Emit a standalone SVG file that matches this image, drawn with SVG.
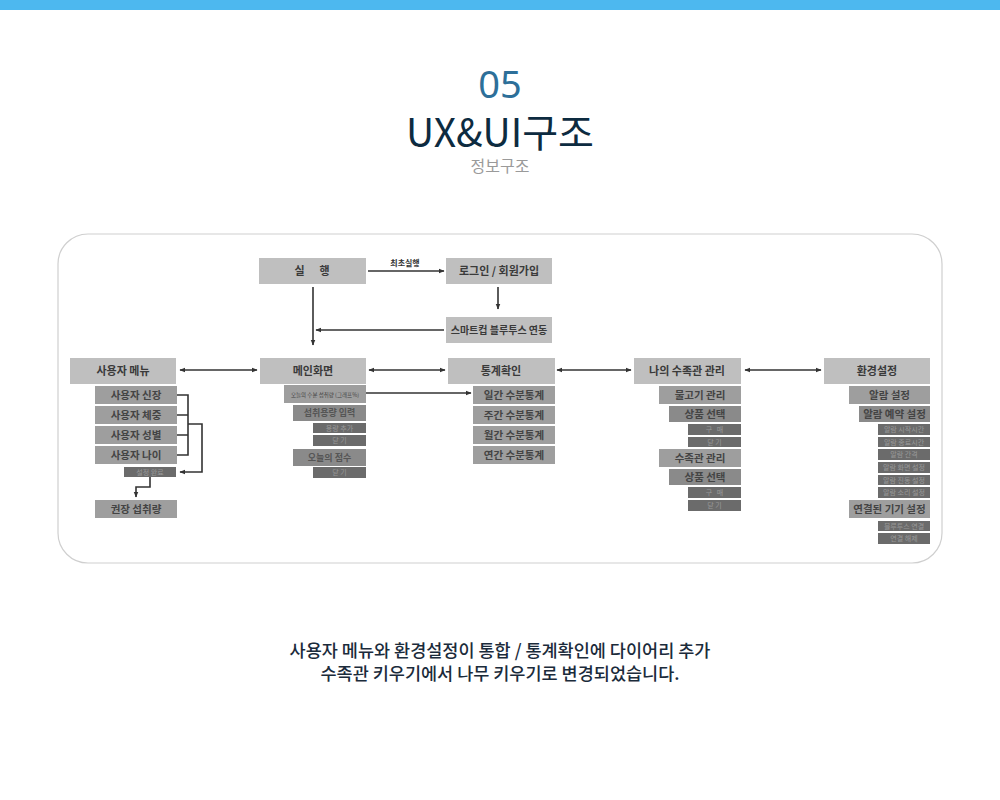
<svg xmlns="http://www.w3.org/2000/svg" width="1000" height="800" viewBox="0 0 1000 800">
<defs>
<style>
.t1{fill:#bfbfbf}
.t2{fill:#9e9e9e}
.t3{fill:#8a8a8a}
.t4{fill:#6b6b6b}
text{font-family:"Noto Sans CJK KR","Noto Sans",sans-serif;text-anchor:middle}
.l1{font-size:11px;font-weight:bold;fill:#3a3a3a}
.l2{font-size:10.5px;font-weight:bold;fill:#444}
.l3{font-size:9px;font-weight:bold;fill:#555}
.l4{font-size:7px;fill:#999}
.ln{stroke:#333;stroke-width:1.6;fill:none}
</style>
<marker id="ah" viewBox="0 0 10 10" refX="9" refY="5" markerWidth="6" markerHeight="6" orient="auto-start-reverse" markerUnits="userSpaceOnUse">
<path d="M0,1 L10,5 L0,9 Z" fill="#333"/>
</marker>
</defs>
<rect x="0" y="0" width="1000" height="10" fill="#4db8ef"/>
<text x="500" y="98" style="font-size:38px;fill:#2d6f99;font-family:'Noto Sans','Noto Sans CJK KR',sans-serif;font-weight:normal">05</text>
<text x="500" y="147" style="font-size:39px;fill:#0d2b40;font-weight:normal">UX&amp;UI구조</text>
<text x="500" y="172" style="font-size:16px;fill:#9a9a9a">정보구조</text>
<rect x="58" y="234" width="884" height="329" rx="30" ry="30" fill="#fff" stroke="#cfcfcf" stroke-width="1.2"/>

<g id="connectors">
<line class="ln" x1="368" y1="271" x2="444" y2="271" marker-end="url(#ah)"/>
<text x="405" y="266" style="font-size:8px;font-weight:bold;fill:#333">최초실행</text>
<line class="ln" x1="498" y1="287" x2="498" y2="309" marker-end="url(#ah)"/>
<line class="ln" x1="313" y1="287" x2="313" y2="345" marker-end="url(#ah)"/>
<line class="ln" x1="444" y1="330" x2="316" y2="330" marker-end="url(#ah)"/>
<line class="ln" x1="180" y1="370" x2="257" y2="370" marker-start="url(#ah)" marker-end="url(#ah)"/>
<line class="ln" x1="369" y1="370" x2="445" y2="370" marker-start="url(#ah)" marker-end="url(#ah)"/>
<line class="ln" x1="557" y1="370" x2="631" y2="370" marker-start="url(#ah)" marker-end="url(#ah)"/>
<line class="ln" x1="745" y1="370" x2="821" y2="370" marker-start="url(#ah)" marker-end="url(#ah)"/>
<line class="ln" x1="366" y1="393" x2="471" y2="393" marker-end="url(#ah)"/>
<path class="ln" d="M177,395 H188 V455 H177 M177,415 H188 M177,435 H188"/>
<path class="ln" d="M188,424 H202 V472 H180" marker-end="url(#ah)"/>
<path class="ln" d="M150,477 V487 H136 V497" marker-end="url(#ah)"/>
</g>

<g id="n-run"><rect class="t1" x="259" y="258" width="107" height="26"/><text class="l1" x="312" y="275">실&#160;&#160;&#160;&#160;&#160;&#160;행</text></g>
<g id="n-login"><rect class="t1" x="446" y="258" width="106" height="26"/><text class="l1" x="499" y="275">로그인 / 회원가입</text></g>
<g id="n-bt"><rect class="t1" x="446" y="317" width="106" height="26"/><text class="l2" x="499" y="334" style="font-size:10px;fill:#3a3a3a">스마트컵 블루투스 연동</text></g>

<g id="n-user"><rect class="t1" x="70" y="358" width="106" height="26"/><text class="l1" x="123" y="375">사용자 메뉴</text></g>
<g id="n-u1"><rect class="t2" x="95" y="386" width="82" height="18"/><text class="l2" x="136" y="399">사용자 신장</text></g>
<g id="n-u2"><rect class="t2" x="95" y="406" width="82" height="18"/><text class="l2" x="136" y="419">사용자 체중</text></g>
<g id="n-u3"><rect class="t2" x="95" y="426" width="82" height="18"/><text class="l2" x="136" y="439">사용자 성별</text></g>
<g id="n-u4"><rect class="t2" x="95" y="446" width="82" height="18"/><text class="l2" x="136" y="459">사용자 나이</text></g>
<g id="n-u5"><rect class="t4" x="124" y="467" width="52" height="10"/><text class="l4" x="150" y="474.5">설정 완료</text></g>
<g id="n-u6"><rect class="t2" x="95" y="500" width="82" height="18"/><text class="l2" x="136" y="513">권장 섭취량</text></g>

<g id="n-main"><rect class="t1" x="260" y="358" width="106" height="26"/><text class="l1" x="313" y="375">메인화면</text></g>
<g id="n-m1"><rect class="t2" x="284" y="385" width="82" height="18"/><text class="l4" x="325" y="396.5" style="fill:#444;font-size:5.5px">오늘의 수분 섭취량 (그래프%)</text></g>
<g id="n-m2"><rect class="t3" x="293" y="405" width="73" height="16"/><text class="l3" x="329.5" y="416">섭취용량 입력</text></g>
<g id="n-m3"><rect class="t4" x="313" y="423" width="53" height="10"/><text class="l4" x="339.5" y="430.5">용량 추가</text></g>
<g id="n-m4"><rect class="t4" x="313" y="435" width="53" height="11"/><text class="l4" x="339.5" y="443">닫 기</text></g>
<g id="n-m5"><rect class="t3" x="293" y="449" width="73" height="17"/><text class="l3" x="329.5" y="460.5">오늘의 점수</text></g>
<g id="n-m6"><rect class="t4" x="313" y="467" width="53" height="11"/><text class="l4" x="339.5" y="475">닫 기</text></g>

<g id="n-stat"><rect class="t1" x="448" y="358" width="107" height="26"/><text class="l1" x="501" y="375">통계확인</text></g>
<g id="n-s1"><rect class="t2" x="473" y="386" width="82" height="18"/><text class="l2" x="514" y="399">일간 수분통계</text></g>
<g id="n-s2"><rect class="t2" x="473" y="406" width="82" height="18"/><text class="l2" x="514" y="419">주간 수분통계</text></g>
<g id="n-s3"><rect class="t2" x="473" y="426" width="82" height="18"/><text class="l2" x="514" y="439">월간 수분통계</text></g>
<g id="n-s4"><rect class="t2" x="473" y="446" width="82" height="18"/><text class="l2" x="514" y="459">연간 수분통계</text></g>

<g id="n-aq"><rect class="t1" x="634" y="358" width="107" height="26"/><text class="l1" x="687" y="375">나의 수족관 관리</text></g>
<g id="n-a1"><rect class="t2" x="659" y="386" width="82" height="18"/><text class="l2" x="700" y="399">물고기 관리</text></g>
<g id="n-a2"><rect class="t3" x="669" y="406" width="72" height="16"/><text class="l2" x="705" y="418">상품 선택</text></g>
<g id="n-a3"><rect class="t4" x="688" y="424" width="53" height="11"/><text class="l4" x="714.5" y="432">구&#160;&#160;&#160;매</text></g>
<g id="n-a4"><rect class="t4" x="688" y="437" width="53" height="10"/><text class="l4" x="714.5" y="444.5">닫 기</text></g>
<g id="n-a5"><rect class="t2" x="659" y="449" width="82" height="18"/><text class="l2" x="700" y="462">수족관 관리</text></g>
<g id="n-a6"><rect class="t3" x="669" y="469" width="72" height="16"/><text class="l2" x="705" y="481">상품 선택</text></g>
<g id="n-a7"><rect class="t4" x="688" y="487" width="53" height="11"/><text class="l4" x="714.5" y="495">구&#160;&#160;&#160;매</text></g>
<g id="n-a8"><rect class="t4" x="688" y="500" width="53" height="11"/><text class="l4" x="714.5" y="508">닫 기</text></g>

<g id="n-env"><rect class="t1" x="824" y="358" width="106" height="26"/><text class="l1" x="877" y="375">환경설정</text></g>
<g id="n-e1"><rect class="t2" x="849" y="386" width="81" height="18"/><text class="l2" x="889.5" y="399">알람 설정</text></g>
<g id="n-e2"><rect class="t3" x="859" y="406" width="71" height="16"/><text class="l2" x="894.5" y="418">알람 예약 설정</text></g>
<g id="n-e3"><rect class="t4" x="878" y="424" width="52" height="11"/><text class="l4" x="904" y="432">알람 시작시간</text></g>
<g id="n-e4"><rect class="t4" x="878" y="437" width="52" height="10"/><text class="l4" x="904" y="444.5">알람 종료시간</text></g>
<g id="n-e5"><rect class="t4" x="878" y="449" width="52" height="11"/><text class="l4" x="904" y="457">알람 간격</text></g>
<g id="n-e6"><rect class="t4" x="878" y="462" width="52" height="11"/><text class="l4" x="904" y="470">알람 화면 설정</text></g>
<g id="n-e7"><rect class="t4" x="878" y="475" width="52" height="10"/><text class="l4" x="904" y="482.5">알람 진동 설정</text></g>
<g id="n-e8"><rect class="t4" x="878" y="487" width="52" height="11"/><text class="l4" x="904" y="495">알람 소리 설정</text></g>
<g id="n-e9"><rect class="t2" x="849" y="500" width="81" height="18"/><text class="l2" x="889.5" y="513">연결된 기기 설정</text></g>
<g id="n-e10"><rect class="t4" x="878" y="521" width="52" height="10"/><text class="l4" x="904" y="528.5">블루투스 연결</text></g>
<g id="n-e11"><rect class="t4" x="878" y="533" width="52" height="11"/><text class="l4" x="904" y="541">연결 해제</text></g>

<text x="500" y="657" style="font-size:17.5px;fill:#1b2b3b;font-weight:500">사용자 메뉴와 환경설정이 통합 / 통계확인에 다이어리 추가</text>
<text x="500" y="680" style="font-size:17.5px;fill:#1b2b3b;font-weight:500">수족관 키우기에서 나무 키우기로 변경되었습니다.</text>
</svg>
